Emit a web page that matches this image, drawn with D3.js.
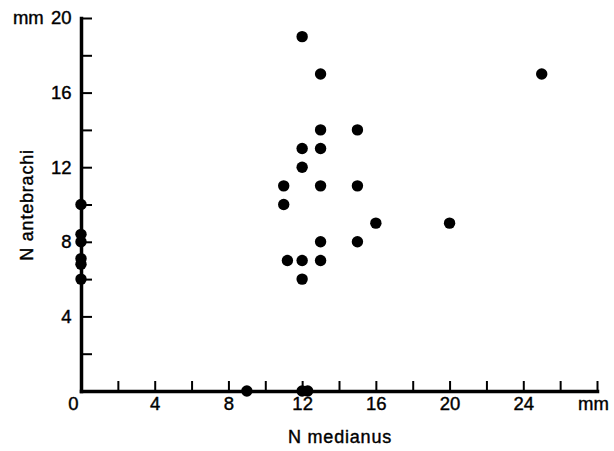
<!DOCTYPE html>
<html>
<head>
<meta charset="utf-8">
<script src="https://cdn.jsdelivr.net/npm/d3@7"></script>
<style>
  body { margin: 0; background: #fff; }
  svg { display: block; font-family: "Liberation Sans", Arial, Helvetica, sans-serif; }
</style>
</head>
<body>
<div id="chart"></div>
<script>
// N medianus (mm) vs N antebrachi (mm)
const medianus   = [0, 0, 0, 0, 0, 0, 9, 12, 12.3, 12, 13, 13, 15, 12, 13, 12, 11, 13, 15, 11, 16, 20, 13, 15, 11.2, 12, 13, 12, 25];
const antebrachi = [10, 8.4, 8, 7.1, 6.8, 6, 0, 0, 0, 19, 17, 14, 14, 13, 13, 12, 11, 11, 11, 10, 9, 9, 8, 8, 7, 7, 7, 6, 17];

const xTicks = [0, 2, 4, 6, 8, 10, 12, 14, 16, 18, 20, 22, 24, 26, 28];
const yTicks = [0, 2, 4, 6, 8, 10, 12, 14, 16, 18, 20];
const xLabels = { 0: "0", 4: "4", 8: "8", 12: "12", 16: "16", 20: "20", 24: "24", 28: "mm" };
const yLabels = { 4: "4", 8: "8", 12: "12", 16: "16", 20: "mm 20" };

const width = 614;
const height = 451;

const svg = d3.select("#chart")
  .append("svg")
  .attr("width", width)
  .attr("height", height);

const x = d3.scaleLinear().domain([0, 28]).range([81, 597]);
const y = d3.scaleLinear().domain([0, 20]).range([391, 18]);

const xAxis = svg.append("g")
  .attr("transform", `translate(0, ${y(0)})`)
  .call(d3.axisBottom(x)
    .tickValues(xTicks)
    .tickSize(-10)
    .tickSizeOuter(0)
    .tickPadding(6)
    .tickFormat(d => xLabels[d] || ""));

const yAxis = svg.append("g")
  .attr("transform", `translate(${x(0)}, 0)`)
  .call(d3.axisLeft(y)
    .tickValues(yTicks)
    .tickSize(-11)
    .tickSizeOuter(0)
    .tickPadding(9.5)
    .tickFormat(d => yLabels[d] || ""));

[xAxis, yAxis].forEach(g => {
  g.select(".domain")
    .attr("stroke", "#000")
    .attr("stroke-width", 3.5)
    .attr("stroke-linecap", "square");
  g.selectAll(".tick line")
    .attr("stroke", "#000")
    .attr("stroke-width", 2);
  g.selectAll(".tick text")
    .attr("fill", "#000")
    .attr("stroke", "#000")
    .attr("stroke-width", 0.4)
    .style("font-size", "18.5px");
});

// small nudges to match the original label placement
xAxis.selectAll(".tick text").filter(d => d === 0).attr("dx", -8);
xAxis.selectAll(".tick text").filter(d => d === 28).attr("dx", -4);
yAxis.selectAll(".tick text").filter(d => d === 20).style("word-spacing", "2px");

// points
svg.append("g")
  .selectAll("circle")
  .data(medianus.map((m, i) => ({ m: m, a: antebrachi[i] })))
  .join("circle")
  .attr("cx", d => x(d.m))
  .attr("cy", d => y(d.a))
  .attr("r", 5.7)
  .attr("fill", "#000");

// axis titles
svg.append("text")
  .attr("x", 340)
  .attr("y", 443)
  .attr("text-anchor", "middle")
  .attr("stroke", "#000")
  .attr("stroke-width", 0.4)
  .style("font-size", "18px")
  .style("letter-spacing", "0.8px")
  .text("N medianus");

svg.append("text")
  .attr("transform", "translate(33, 205) rotate(-90)")
  .attr("text-anchor", "middle")
  .attr("stroke", "#000")
  .attr("stroke-width", 0.4)
  .style("font-size", "18px")
  .style("letter-spacing", "0.8px")
  .text("N antebrachi");
</script>
</body>
</html>
